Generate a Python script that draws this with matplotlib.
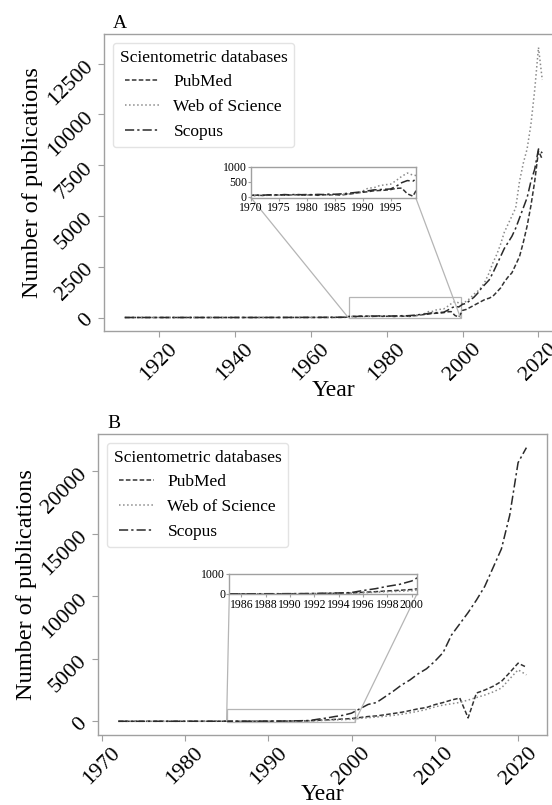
import numpy as np
import matplotlib
matplotlib.use("Agg")
import matplotlib.pyplot as plt
from mpl_toolkits.axes_grid1.inset_locator import mark_inset

plt.rcParams["font.family"] = ["Liberation Serif", "DejaVu Serif"]

# Panel A: 1911-2021
years_a = list(range(1911, 2022))
pubmed_a = ([0, 0, 1, 0, 0, 1, 0, 0, 0, 1, 0, 1, 0, 0, 1, 0, 0, 1, 0, 0,
             1, 0, 0, 1, 1, 0, 0, 1, 0, 1, 0, 1, 1, 0, 1, 1, 2, 1, 1, 2,
             1, 2, 2, 1, 2, 3, 2, 2, 3, 3, 2, 3, 4, 3, 4, 4, 5, 5, 6]
            + [40, 55, 45, 60, 50, 65, 55, 60, 70, 55, 60, 65, 50, 70, 60,
               75, 55, 80, 100, 130, 150, 170, 200, 210, 220, 240, 280, 290, 100, 20]
            + [350, 400, 500, 600, 700, 800, 900, 950, 1050, 1250, 1450,
               1750, 2000, 2200, 2600, 3000, 3700, 4500, 5500, 6700, 8200, 7800])
wos_a = ([0, 0, 0, 1, 0, 0, 0, 1, 0, 0, 0, 0, 1, 0, 0, 0, 1, 0, 0, 1,
          0, 0, 1, 0, 0, 1, 0, 0, 1, 0, 1, 0, 1, 1, 0, 1, 1, 1, 2, 1,
          2, 1, 2, 2, 3, 2, 3, 3, 4, 3, 4, 4, 5, 5, 6, 6, 7, 8, 9]
         + [30, 40, 45, 50, 45, 55, 50, 60, 55, 65, 60, 55, 65, 60, 70,
            60, 80, 90, 110, 140, 190, 290, 300, 370, 400, 420, 540, 680, 790, 720]
         + [700, 800, 950, 1150, 1300, 1500, 1800, 2200, 2700, 3100, 3600,
            4200, 4600, 5000, 5400, 6700, 7600, 8300, 9500, 11200, 13300, 11700])
scopus_a = ([1, 0, 1, 0, 1, 1, 0, 1, 0, 1, 1, 0, 1, 1, 0, 1, 1, 0, 1, 1,
             1, 1, 0, 1, 1, 1, 2, 1, 1, 2, 1, 2, 2, 2, 1, 2, 3, 2, 3, 3,
             3, 4, 3, 4, 5, 4, 5, 6, 5, 7, 6, 7, 8, 9, 10, 11, 12, 14, 15]
            + [50, 60, 50, 65, 70, 60, 75, 65, 80, 70, 75, 70, 80, 75, 90,
               85, 95, 110, 130, 150, 170, 200, 230, 240, 250, 260, 350, 470, 540, 520]
            + [650, 700, 850, 1000, 1200, 1450, 1650, 1850, 2200, 2600, 3000,
               3400, 3700, 4000, 4400, 4900, 5400, 5900, 6700, 7300, 8300, 8100])

# Panel B: 1972-2021
years_b = list(range(1972, 2022))
pubmed_b = ([0, 0, 1, 0, 1, 1, 0, 1, 1, 2, 1, 2, 2]
            + [3, 4, 4, 5, 6, 8, 10, 14, 22, 30, 45, 80, 110, 150, 180]
            + [220, 300, 380, 430, 520, 620, 720, 850, 1000, 1100, 1330,
               1500, 1700, 1860, 270, 2260, 2500, 2800, 3190, 3900, 4650, 4330])
wos_b = ([0, 0, 0, 1, 0, 0, 1, 0, 1, 1, 1, 1, 2]
         + [2, 3, 3, 4, 5, 6, 8, 10, 15, 20, 30, 50, 80, 110, 130]
         + [160, 230, 290, 340, 400, 470, 560, 680, 800, 950, 1150,
            1300, 1400, 1510, 1700, 1900, 2100, 2350, 2660, 3400, 4120, 3720])
scopus_b = ([1, 1, 0, 1, 1, 2, 1, 2, 2, 3, 2, 3, 4]
            + [5, 6, 7, 8, 10, 12, 15, 20, 35, 45, 65, 170, 260, 380, 480]
            + [650, 1000, 1350, 1500, 1950, 2400, 2900, 3300, 3800, 4200, 4800,
               5500, 6900, 7800, 8700, 9700, 10800, 12300, 13800, 16500, 20700, 21900])

names = ["PubMed", "Web of Science", "Scopus"]
styles = [dict(ls=(0, (3, 1.5)), color="#333333", lw=1.1),
          dict(ls=":", color="#8a8a8a", lw=1.1),
          dict(ls=(0, (6, 2, 1.5, 2)), color="#2a2a2a", lw=1.1)]

spine_col = "#a0a0a0"


def style_axes(ax, size):
    for s in ax.spines.values():
        s.set_color(spine_col)
        s.set_linewidth(1.0)
    ax.tick_params(colors="black", labelsize=size, length=4, color=spine_col)


def draw_panel(ax, years, series, letter, xticks, yticks, inset_rect,
               inset_xlim, inset_xticks, inset_yticks):
    for vals, name, st in zip(series, names, styles):
        ax.plot(years, vals, label=name, **st)
    style_axes(ax, 16)
    ax.tick_params(axis="x", pad=2)
    ax.tick_params(axis="y", pad=1)
    ax.set_xticks(xticks)
    ax.set_yticks(yticks)
    plt.setp(ax.get_xticklabels(), rotation=45)
    plt.setp(ax.get_yticklabels(), rotation=45)
    ax.set_xlabel("Year", fontsize=17, labelpad=-3)
    ax.set_ylabel("Number of publications", fontsize=17.5, labelpad=1)
    ax.text(0.02, 1.006, letter, transform=ax.transAxes, fontsize=14,
            ha="left", va="bottom")
    leg = ax.legend(title="Scientometric databases", loc="upper left",
                    prop={"size": 12.5}, title_fontsize=12.5)
    leg.get_frame().set_edgecolor("#dddddd")

    ins = ax.figure.add_axes(inset_rect)
    for vals, st in zip(series, styles):
        ins.plot(years, vals, **st)
    ins.set_xlim(*inset_xlim)
    ins.set_ylim(-30, 1000)
    ins.set_xticks(inset_xticks)
    ins.set_yticks(inset_yticks)
    style_axes(ins, 8.5)
    ins.tick_params(length=2, pad=1)
    mark_inset(ax, ins, loc1=3, loc2=4, fc="none", ec="#b5b5b5", lw=0.9)
    return ins


fig = plt.figure(figsize=(5.52, 8.05), dpi=100)

ax_a = fig.add_axes([0.1882, 0.5888, 0.832, 0.369])
draw_panel(ax_a, years_a, [pubmed_a, wos_a, scopus_a], "A",
           [1920, 1940, 1960, 1980, 2000, 2020],
           [0, 2500, 5000, 7500, 10000, 12500],
           [0.4547, 0.7544, 0.2984, 0.0385], (1970, 1999.5),
           [1970, 1975, 1980, 1985, 1990, 1995], [0, 500, 1000])

ax_b = fig.add_axes([0.1774, 0.087, 0.8132, 0.3739])
draw_panel(ax_b, years_b, [pubmed_b, wos_b, scopus_b], "B",
           [1970, 1980, 1990, 2000, 2010, 2020],
           [0, 5000, 10000, 15000, 20000],
           [0.4154, 0.2615, 0.3395, 0.0255], (1985, 2000.4),
           list(range(1986, 2001, 2)), [0, 1000])

fig.savefig("out.png", dpi=100)
